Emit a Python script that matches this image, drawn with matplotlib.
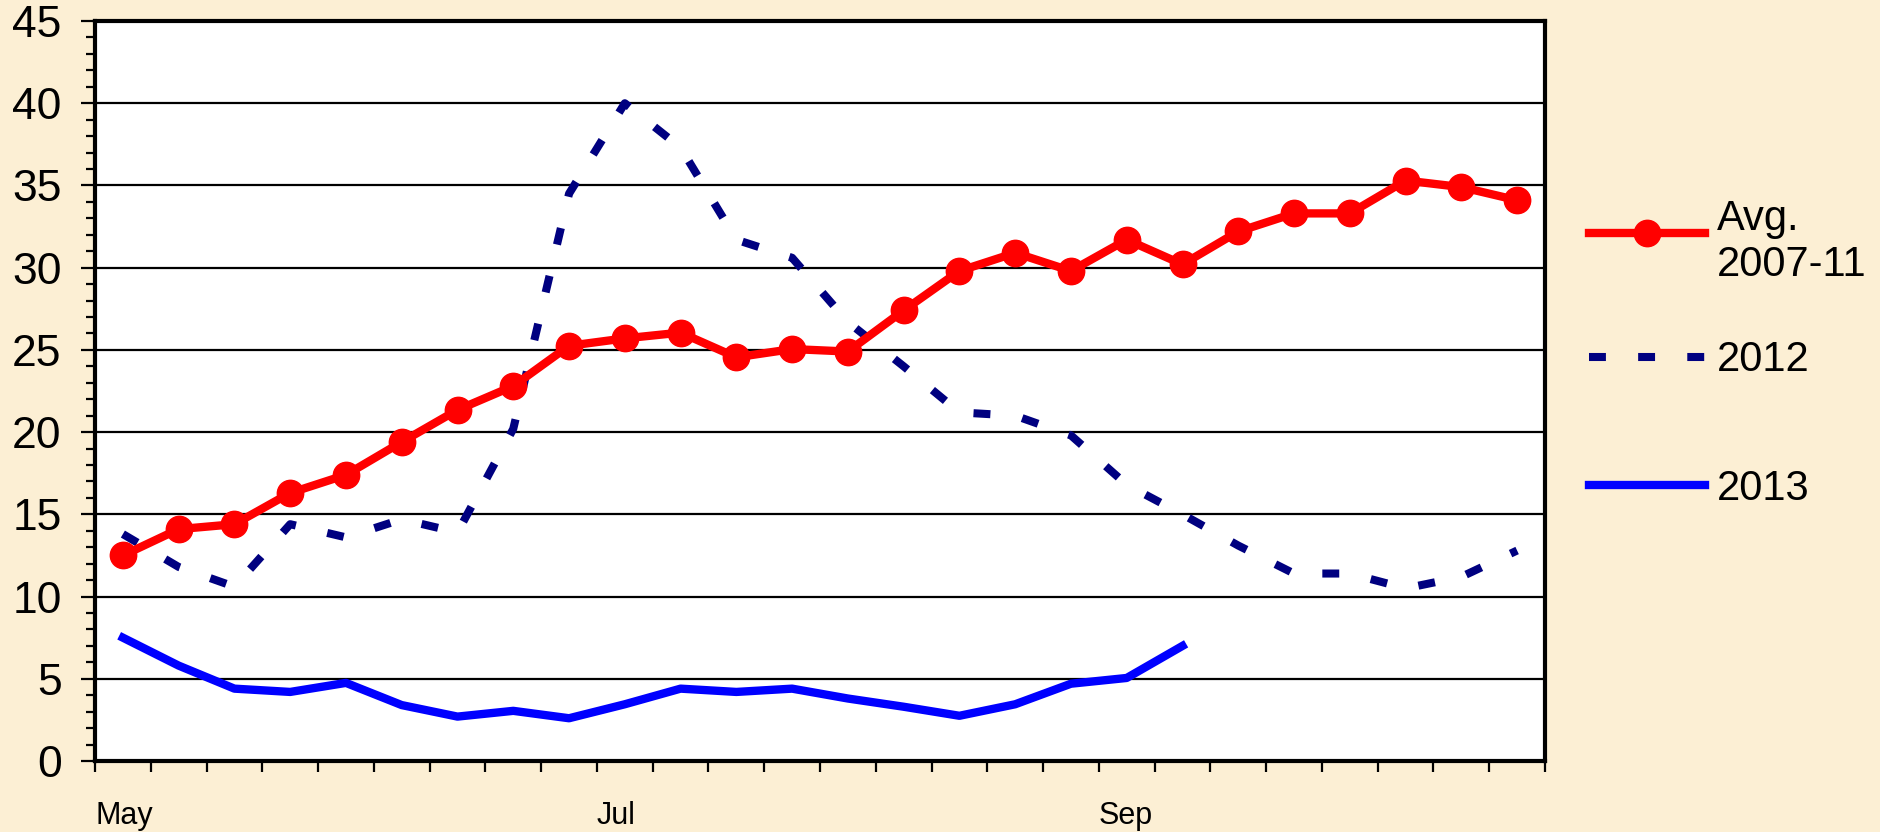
import numpy as np
import matplotlib
matplotlib.use("Agg")
import matplotlib.pyplot as plt
from matplotlib.lines import Line2D
from matplotlib.ticker import MultipleLocator

# weekly values, May - Oct
weeks = np.arange(26)
month_labels = {0: "May", 9: "Jul", 18: "Sep"}

avg_2007_11 = [12.5, 14.1, 14.4, 16.3, 17.4, 19.4, 21.35, 22.8, 25.25, 25.7, 26.05,
               24.55, 25.05, 24.9, 27.4, 29.8, 30.9, 29.8, 31.7, 30.2, 32.2, 33.3,
               33.3, 35.3, 34.9, 34.1]
y2012 = [13.8, 11.8, 10.6, 14.4, 13.6, 14.7, 13.9, 20.2, 34.5, 40.0, 37.3, 31.7,
         30.6, 26.7, 24.0, 21.2, 21.0, 19.8, 16.8, 15.0, 13.1, 11.4, 11.4, 10.5,
         11.2, 12.8]
y2013 = [7.5, 5.8, 4.4, 4.2, 4.75, 3.4, 2.7, 3.05, 2.6, 3.45, 4.4, 4.2, 4.4,
         3.8, 3.3, 2.75, 3.45, 4.7, 5.05, 7.0]

bg = "#fcefd4"
W, H = 1880, 832
plt.rcParams["font.family"] = ["Liberation Sans", "DejaVu Sans"]

fig = plt.figure(figsize=(W / 100, H / 100), dpi=100, facecolor=bg)
ax = fig.add_axes([95 / W, 1 - 761 / H, 1450 / W, 740 / H])
ax.set_facecolor("white")

red = dict(color="#ff0000", lw=6, marker="o", ms=19)
navy = dict(color="#000080", lw=5.8, dashes=(2.1, 4.0), dash_capstyle="butt")
blue = dict(color="#0000ff", lw=6)

ax.plot(weeks, avg_2007_11, zorder=4, **red)
ax.plot(weeks, y2012, zorder=3, **navy)
ax.plot(weeks[:len(y2013)], y2013, zorder=3, **blue)

ax.set_xlim(-0.5, 25.5)
ax.set_ylim(0, 45)

# category boundaries as ticks, labels left aligned
bounds = np.arange(27) - 0.5
labels = [month_labels.get(i, "") for i in range(27)]
ax.set_xticks(bounds, labels)
for t in ax.get_xticklabels():
    t.set_horizontalalignment("left")
ax.tick_params(axis="x", length=8, width=1.6, pad=21, labelsize=22)

ax.yaxis.set_major_locator(MultipleLocator(5))
ax.yaxis.set_minor_locator(MultipleLocator(1))
ax.tick_params(axis="y", which="major", length=10, width=1.6, pad=14, labelsize=32)
ax.tick_params(axis="y", which="minor", length=6.5, width=1.6)

ax.grid(axis="y", which="major", color="black", lw=1.6)
ax.set_axisbelow(True)
for s in ax.spines.values():
    s.set_linewidth(3)
    s.set_color("black")

# legend drawn by hand (Excel style: marker row aligned with first text line)
def legend_row(y_px, text_y, label, style, marker_mid=False):
    y = 1 - y_px / H
    xs = [1589 / W, 1647 / W, 1705 / W]
    kw = dict(style)
    if marker_mid:
        kw["markevery"] = [1]
    fig.add_artist(Line2D(xs, [y] * 3, transform=fig.transFigure, **kw))
    fig.text(1717 / W, 1 - text_y / H, label, fontsize=30,
             va="baseline", ha="left", linespacing=1.2)

legend_row(233, 276, "Avg.\n2007-11", red, marker_mid=True)
legend_row(357, 371, "2012", navy)
legend_row(485, 500, "2013", blue)

fig.savefig("out.png", dpi=100, facecolor=bg)
